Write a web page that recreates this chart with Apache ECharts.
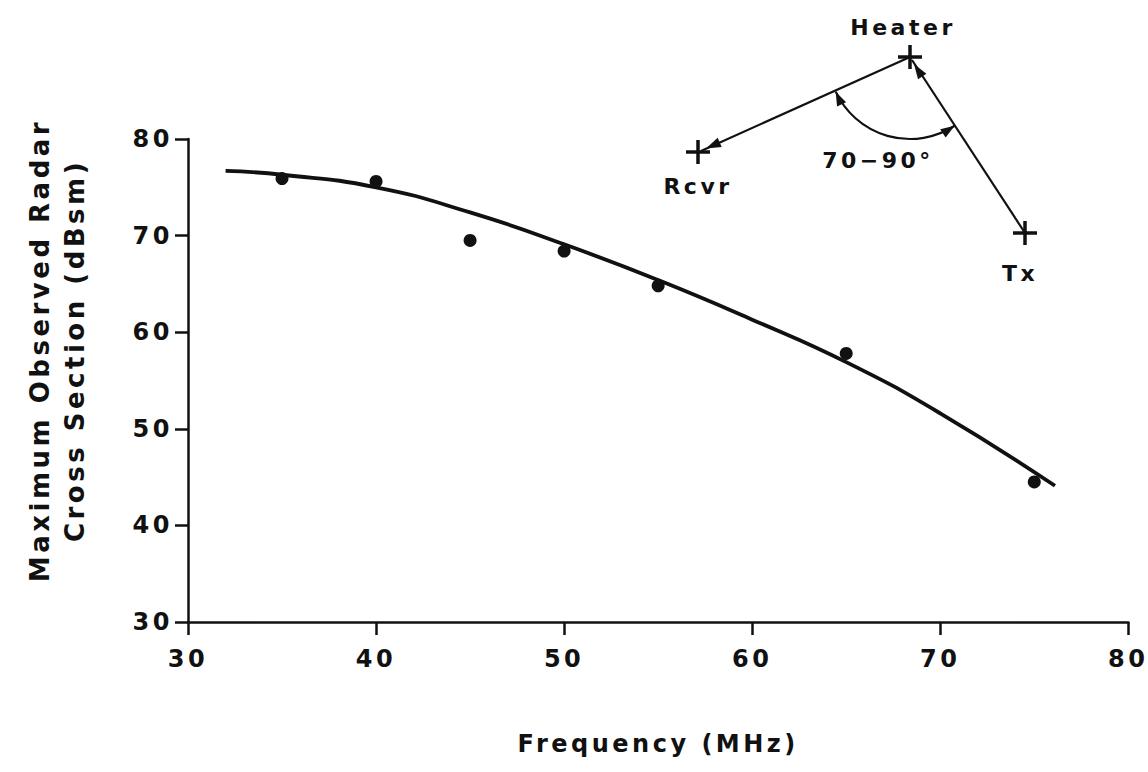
<!DOCTYPE html>
<html>
<head>
<meta charset="utf-8">
<script src="https://cdn.jsdelivr.net/npm/echarts@6/dist/echarts.min.js"></script>
<style>
html, body { margin: 0; padding: 0; background: #ffffff; }
#chart { width: 1148px; height: 772px; }
#chart text { letter-spacing: 3.5px; }
</style>
</head>
<body>
<div id="chart"></div>
<script>
// ---- data ----
const xTicks = [30, 40, 50, 60, 70, 80];
const yTicks = [30, 40, 50, 60, 70, 80];
// observed points (frequency MHz, max radar cross section dBsm)
const freqMHz = [35, 40, 45, 50, 55, 65, 75];
const rcsDBsm = [75.9, 75.6, 69.5, 68.4, 64.8, 57.8, 44.5];
// hand-drawn trend curve
const fitFreq = [32, 35, 40, 45, 50, 55, 60, 65, 70, 76.1];
const fitRcs = [76.7, 76.3, 75.0, 72.4, 69.1, 65.4, 61.3, 56.9, 51.6, 44.1];
// inset geometry labels
const insetLabels = ['Heater', 'Rcvr', 'Tx', '70−90°'];

const INK = '#111111';
const FONT = 'DejaVu Sans';

const chart = echarts.init(document.getElementById('chart'), null, { renderer: 'svg' });

// ---- inset diagram (annotation, drawn with graphic elements) ----
const H = [910, 57], R = [698, 152], T = [1025, 233];
function cross(p, s) {
  return [
    { type: 'line', shape: { x1: p[0] - s, y1: p[1], x2: p[0] + s, y2: p[1] }, style: { stroke: INK, lineWidth: 3.5 } },
    { type: 'line', shape: { x1: p[0], y1: p[1] - s, x2: p[0], y2: p[1] + s }, style: { stroke: INK, lineWidth: 3.5 } }
  ];
}
function arrow(tip, ang, len, w) {
  const bx = tip[0] - len * Math.cos(ang), by = tip[1] - len * Math.sin(ang);
  const px = -Math.sin(ang) * w, py = Math.cos(ang) * w;
  return { type: 'polygon', shape: { points: [tip, [bx + px, by + py], [bx - px, by - py]] }, style: { fill: INK } };
}
const deg = Math.PI / 180;
const angHR = Math.atan2(R[1] - H[1], R[0] - H[0]);
const angTH = Math.atan2(H[1] - T[1], H[0] - T[0]);
const arcR = 82, a0 = 57 * deg, a1 = 155 * deg;
const arcStart = [H[0] + arcR * Math.cos(a0), H[1] + arcR * Math.sin(a0)];
const arcEnd = [H[0] + arcR * Math.cos(a1), H[1] + arcR * Math.sin(a1)];
function label(txt, x, y) {
  return { type: 'text', x: x, y: y, style: { text: txt, font: 'bold 22px "' + FONT + '"', fill: INK, textAlign: 'center', textVerticalAlign: 'middle' } };
}
const graphics = [].concat(
  [{ type: 'line', shape: { x1: H[0], y1: H[1], x2: R[0] + 3, y2: R[1] - 1 }, style: { stroke: INK, lineWidth: 2.2 } },
   { type: 'line', shape: { x1: T[0], y1: T[1], x2: H[0] + 2, y2: H[1] + 3 }, style: { stroke: INK, lineWidth: 2.2 } },
   { type: 'arc', shape: { cx: H[0], cy: H[1], r: arcR, startAngle: a0, endAngle: a1, clockwise: true }, style: { stroke: INK, lineWidth: 2.2, fill: null } },
   arrow([R[0] + 8, R[1] - 3.5], angHR, 15, 5),
   arrow([H[0] + 4, H[1] + 7], angTH, 15, 5),
   arrow(arcEnd, a1 + Math.PI / 2, 14, 5),
   arrow(arcStart, a0 - Math.PI / 2, 14, 5)],
  cross(H, 12), cross(R, 12), cross(T, 12),
  [label(insetLabels[0], 903, 27), label(insetLabels[1], 698, 186), label(insetLabels[2], 1020, 273), label(insetLabels[3], 878, 160)]
);

const tickText = { color: INK, fontSize: 24, fontWeight: 'bold', fontFamily: FONT };

chart.setOption({
  animation: false,
  backgroundColor: '#ffffff',
  grid: { left: 188, right: 17, top: 139, bottom: 150 },
  xAxis: {
    type: 'value',
    min: xTicks[0], max: xTicks[xTicks.length - 1], interval: xTicks[1] - xTicks[0],
    axisLine: { show: true, lineStyle: { color: INK, width: 2.5 } },
    axisTick: { show: true, inside: false, length: 13, lineStyle: { color: INK, width: 2.5 } },
    axisLabel: Object.assign({ margin: 25, showMinLabel: true, showMaxLabel: true }, tickText),
    splitLine: { show: false },
    name: 'Frequency (MHz)',
    nameLocation: 'middle',
    nameGap: 110,
    nameTextStyle: { color: INK, fontSize: 24, fontWeight: 'bold', fontFamily: FONT }
  },
  yAxis: {
    type: 'value',
    min: yTicks[0], max: yTicks[yTicks.length - 1], interval: yTicks[1] - yTicks[0],
    axisLine: { show: true, lineStyle: { color: INK, width: 2.5 } },
    axisTick: { show: true, inside: false, length: 13, lineStyle: { color: INK, width: 2.5 } },
    axisLabel: Object.assign({ margin: 15, showMinLabel: true, showMaxLabel: true }, tickText),
    splitLine: { show: false },
    name: 'Maximum Observed Radar\nCross Section (dBsm)',
    nameLocation: 'middle',
    nameRotate: 90,
    nameGap: 96,
    nameTextStyle: { color: INK, fontSize: 26, fontWeight: 'bold', fontFamily: FONT, lineHeight: 35, align: 'center', padding: [0, 0, 0, 60] }
  },
  series: [
    {
      type: 'line',
      data: fitFreq.map((x, i) => [x, fitRcs[i]]),
      smooth: 0.5,
      showSymbol: false,
      lineStyle: { color: INK, width: 3.8 },
      z: 2
    },
    {
      type: 'scatter',
      data: freqMHz.map((x, i) => [x, rcsDBsm[i]]),
      symbol: 'circle',
      symbolSize: 13,
      itemStyle: { color: INK, opacity: 1 },
      z: 3
    }
  ],
  graphic: graphics
});
</script>
</body>
</html>
